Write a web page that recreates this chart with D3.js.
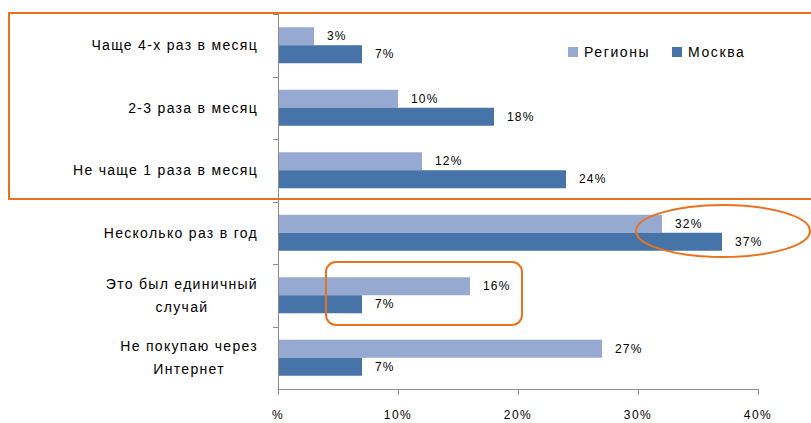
<!DOCTYPE html>
<html>
<head>
<meta charset="utf-8">
<script src="https://cdn.jsdelivr.net/npm/d3@7"></script>
<style>
  body { margin: 0; background: #fff; }
  text { font-family: "Liberation Sans", Arial, sans-serif; fill: #000; }
</style>
</head>
<body>
<div class="chart"></div>
<script>
var categories = [
    ["Чаще 4-х раз в месяц"],
    ["2-3 раза в месяц"],
    ["Не чаще 1 раза в месяц"],
    ["Несколько раз в год"],
    ["Это был единичный", "случай"],
    ["Не покупаю через", "Интернет"]
];
var seriesNames = ["Регионы", "Москва"];
var regions = [3, 10, 12, 32, 16, 27];
var moscow = [7, 18, 24, 37, 7, 7];
var xTicks = [0, 10, 20, 30, 40];
var xTickLabels = ["%", "10%", "20%", "30%", "40%"];

var colors = ["#95a9d1", "#4673a8"];
var orange = "#e8731f";
var W = 811, H = 423;

var data = categories.map(function (c, i) {
    return { key: c.join(" "), lines: c, values: [regions[i], moscow[i]] };
});

var svg = d3.select(".chart").append("svg")
    .attr("width", W).attr("height", H);

var x = d3.scaleLinear().domain([0, 40]).range([278, 758]);
var y0 = d3.scaleBand().domain(data.map(function (d) { return d.key; }))
    .range([14, 389]).padding(0);
var y1 = d3.scaleBand().domain(seriesNames).range([-18, 18]).padding(0);

// axes
var axisColor = "#8c8c8c";
svg.append("line").attr("x1", x(0) + 0.5).attr("x2", x(0) + 0.5)
    .attr("y1", 14).attr("y2", 394).attr("stroke", axisColor);
svg.append("line").attr("x1", x(0)).attr("x2", x(40) + 0.5)
    .attr("y1", 389.5).attr("y2", 389.5).attr("stroke", axisColor);
svg.selectAll(".ytick").data(d3.range(data.length)).enter().append("line")
    .attr("x1", 273).attr("x2", x(0))
    .attr("y1", function (i) { return Math.round(y0(data[i].key)) + 0.5; })
    .attr("y2", function (i) { return Math.round(y0(data[i].key)) + 0.5; })
    .attr("stroke", axisColor);
svg.selectAll(".xtick").data(xTicks).enter().append("line")
    .attr("x1", function (d) { return Math.round(x(d)) + 0.5; })
    .attr("x2", function (d) { return Math.round(x(d)) + 0.5; })
    .attr("y1", 389).attr("y2", 395).attr("stroke", axisColor);
svg.selectAll(".xlabel").data(xTicks).enter().append("text")
    .attr("x", function (d) { return x(d); })
    .attr("y", 415).attr("dy", "0.35em")
    .attr("text-anchor", "middle")
    .attr("font-size", 12).attr("letter-spacing", 1.5)
    .text(function (d, i) { return xTickLabels[i]; });

// bars
var groups = svg.selectAll(".grp").data(data).enter().append("g")
    .attr("transform", function (d) {
        return "translate(0," + (y0(d.key) + y0.bandwidth() / 2) + ")";
    });

groups.selectAll("rect").data(function (d) {
    return d.values.map(function (v, j) { return { s: seriesNames[j], v: v, j: j }; });
}).enter().append("rect")
    .attr("x", x(0) + 1)
    .attr("y", function (d) { return y1(d.s); })
    .attr("width", function (d) { return x(d.v) - x(0) - 1; })
    .attr("height", y1.bandwidth())
    .attr("fill", function (d) { return colors[d.j]; });

groups.selectAll(".val").data(function (d) {
    return d.values.map(function (v, j) { return { s: seriesNames[j], v: v, j: j }; });
}).enter().append("text")
    .attr("x", function (d) { return x(d.v) + 13; })
    .attr("y", function (d) { return y1(d.s) + y1.bandwidth() / 2; })
    .attr("dy", "0.35em")
    .attr("font-size", 12).attr("letter-spacing", 1.2)
    .text(function (d) { return d.v + "%"; });

// category labels
groups.each(function (d) {
    var g = d3.select(this);
    var n = d.lines.length;
    var texts = d.lines.map(function (line, k) {
        return g.append("text")
            .attr("y", (k - (n - 1) / 2) * 23)
            .attr("dy", "0.35em")
            .attr("font-size", 14).attr("letter-spacing", 1.3)
            .text(line);
    });
    var maxW = d3.max(texts, function (t) { return t.node().getComputedTextLength(); });
    texts.forEach(function (t) {
        t.attr("text-anchor", "middle").attr("x", 258 - maxW / 2);
    });
});

// legend
var legend = svg.append("g").attr("transform", "translate(0,52)");
var legX = [568, 672];
seriesNames.forEach(function (s, j) {
    legend.append("rect").attr("x", legX[j]).attr("y", -5)
        .attr("width", 10).attr("height", 10).attr("fill", colors[j]);
    legend.append("text").attr("x", legX[j] + 16).attr("y", 0).attr("dy", "0.35em")
        .attr("font-size", 14).attr("letter-spacing", 1.6).text(s);
});

// highlight annotations
svg.append("rect").attr("x", 9).attr("y", 13).attr("width", 810).attr("height", 186)
    .attr("fill", "none").attr("stroke", orange).attr("stroke-width", 2);
svg.append("ellipse").attr("cx", 723).attr("cy", 231).attr("rx", 87).attr("ry", 26)
    .attr("fill", "none").attr("stroke", orange).attr("stroke-width", 2);
svg.append("rect").attr("x", 326).attr("y", 262).attr("width", 196).attr("height", 63)
    .attr("rx", 10).attr("fill", "none").attr("stroke", orange).attr("stroke-width", 2);
</script>
</body>
</html>
